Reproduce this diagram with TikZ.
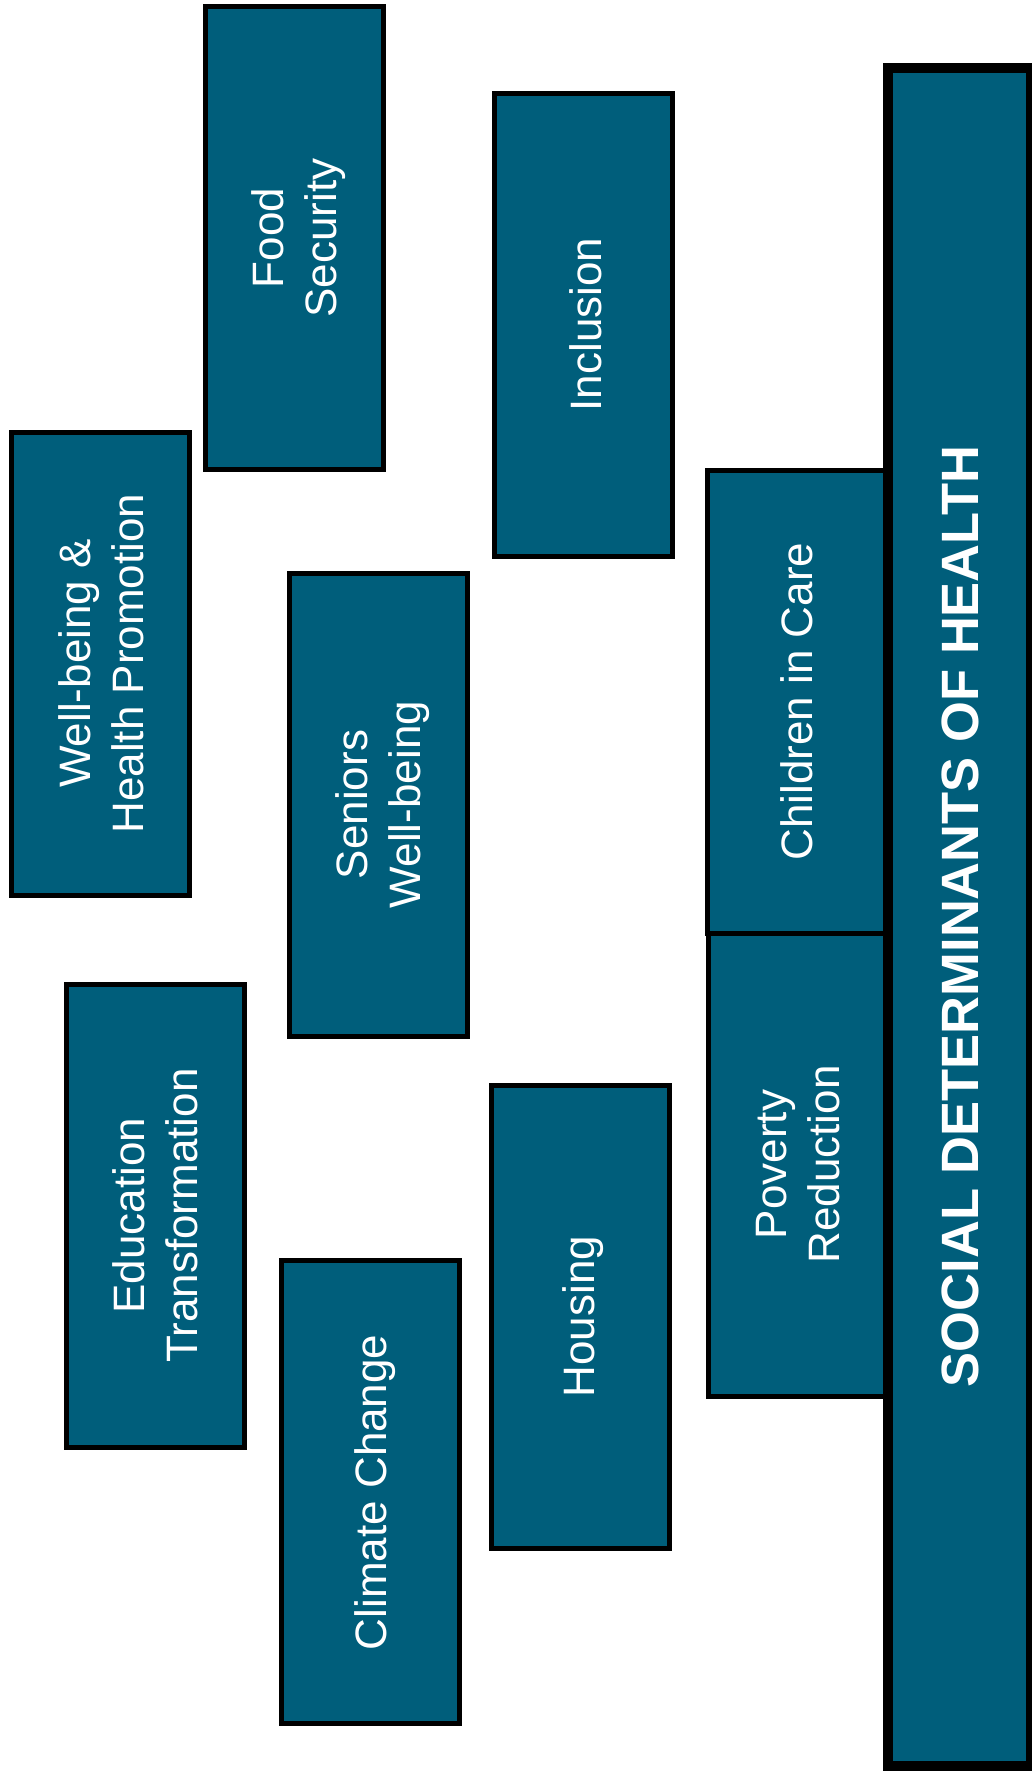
\documentclass[tikz,border=0pt]{standalone}
\usepackage{fontspec}
\setmainfont{Liberation Sans}
\definecolor{teal}{RGB}{0,94,123}
\begin{document}
\begin{tikzpicture}[x=1pt,y=-1pt,
  topic/.style={draw=black, fill=teal, line width=5pt, inner sep=0pt, outer sep=0pt,
    minimum width=178pt, minimum height=463pt},
  lbl/.style={rotate=90, text=white, align=center, inner sep=0pt,
    font=\fontsize{44}{53}\selectfont},
  mainbox/.style={draw=black, fill=teal, line width=10pt, inner sep=0pt, outer sep=0pt,
    minimum width=143pt, minimum height=1698pt},
  mainlbl/.style={rotate=90, text=white, align=center, inner sep=0pt,
    font=\fontsize{52.5}{62}\selectfont\bfseries}]
\useasboundingbox (0,0) rectangle (1032,1778);
\node[topic] (food) at (294.5,238) {};
\node[lbl] (foodt) at ([xshift=4.5pt]food.center) {Food\\Security};
\node[topic] (incl) at (583,324.5) {};
\node[lbl] (inclt) at ([xshift=2.3pt]incl.center) {Inclusion};
\node[topic] (well) at (100.8,663.5) {};
\node[lbl] (wellt) at (well.center) {Well-being \&\\Health Promotion};
\node[topic] (sen) at (378,804.5) {};
\node[lbl] (sent) at ([xshift=4.5pt]sen.center) {Seniors\\Well-being};
\node[topic] (child) at (796,701.5) {};
\node[lbl] (childt) at ([xshift=0.5pt]child.center) {Children in Care};
\node[topic] (pov) at (797.1,1164.5) {};
\node[lbl] (povt) at ([xshift=1pt]pov.center) {Poverty\\Reduction};
\node[topic] (edu) at (155.2,1215.5) {};
\node[lbl] (edut) at (edu.center) {Education\\Transformation};
\node[topic] (clim) at (370.5,1492.3) {};
\node[lbl] (climt) at ([xshift=4.5pt]clim.center) {Climate Change};
\node[topic] (hous) at (580,1316.5) {};
\node[lbl] (houst) at ([xshift=3.4pt]hous.center) {Housing};
\node[mainbox] (sdh) at (959.7,916.5) {};
\node[mainlbl] (sdht) at ([xshift=1pt]sdh.center) {SOCIAL DETERMINANTS OF HEALTH};
\end{tikzpicture}
\end{document}
